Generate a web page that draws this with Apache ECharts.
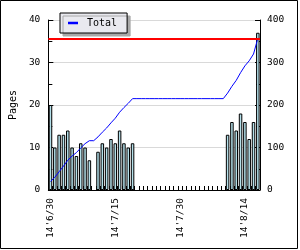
<!DOCTYPE html>
<html>
<head>
<meta charset="utf-8">
<script src="https://cdn.jsdelivr.net/npm/echarts@6/dist/echarts.min.js"></script>
<style>
html,body{margin:0;padding:0;background:#fff;}
#c{width:300px;height:250px;}
</style>
</head>
<body>
<div id="c"></div>
<script>
// ---- data ----
const dates = [
  "14'6/30","14'7/1","14'7/2","14'7/3","14'7/4","14'7/5","14'7/6","14'7/7","14'7/8","14'7/9",
  "14'7/10","14'7/11","14'7/12","14'7/13","14'7/14","14'7/15","14'7/16","14'7/17","14'7/18","14'7/19",
  "14'7/20","14'7/21","14'7/22","14'7/23","14'7/24","14'7/25","14'7/26","14'7/27","14'7/28","14'7/29",
  "14'7/30","14'7/31","14'8/1","14'8/2","14'8/3","14'8/4","14'8/5","14'8/6","14'8/7","14'8/8",
  "14'8/9","14'8/10","14'8/11","14'8/12","14'8/13","14'8/14","14'8/15","14'8/16","14'8/17"
];
const pagesPerDay = [
  20,10,13,13,14,10,8,11,10,7,
  null,9,11,10,12,11,14,11,10,11,
  null,null,null,null,null,null,null,null,null,null,
  null,null,null,null,null,null,null,null,null,null,
  null,13,16,14,18,16,12,16,37
];
const totalPages = [
  20,30,43,56,70,80,88,99,109,116,
  116,125,136,146,158,169,183,194,204,215,
  215,215,215,215,215,215,215,215,215,215,
  215,215,215,215,215,215,215,215,215,215,
  215,228,244,258,276,292,304,320,357
];
const targetPages = 357;
const leftTicks = [0, 40, 10];    // min, max, interval
const rightTicks = [0, 400, 100];
const labelEvery = 15;

const FONT = 'DejaVu Sans Mono';
const chart = echarts.init(document.getElementById('c'), null, {renderer: 'canvas'});
const axisTxt = {fontFamily: FONT, fontSize: 9.5, color: '#000'};

chart.setOption({
  animation: false,
  backgroundColor: '#fff',
  grid: {left: 40, right: 40, top: 20, bottom: 60, containLabel: false},
  legend: {
    data: ['Total'],
    left: 60, top: 13,
    padding: [5, 10, 5, 8],
    backgroundColor: '#e9e9ef',
    borderColor: '#000', borderWidth: 1,
    shadowColor: '#a8a8a8', shadowBlur: 0, shadowOffsetX: 3, shadowOffsetY: 3,
    icon: 'rect', itemWidth: 10, itemHeight: 2.5,
    textStyle: {fontFamily: FONT, fontSize: 10, color: '#000', padding: [0, 0, 0, 4]}
  },
  xAxis: {
    type: 'category',
    data: dates,
    boundaryGap: true,
    axisLine: {lineStyle: {color: '#000', width: 1}},
    axisTick: {show: true, inside: true, length: 4, interval: 0, lineStyle: {color: '#000'}},
    axisLabel: Object.assign({rotate: 90, margin: 8, interval: (i) => i % labelEvery === 0}, axisTxt),
    splitLine: {show: false}
  },
  yAxis: [
    {
      type: 'value', position: 'left',
      min: leftTicks[0], max: leftTicks[1], interval: leftTicks[2],
      name: 'Pages', nameLocation: 'middle', nameGap: 27,
      nameTextStyle: {fontFamily: FONT, fontSize: 10, color: '#000'},
      axisLine: {show: true, lineStyle: {color: '#000', width: 1}},
      axisTick: {show: true, inside: true, length: 5, lineStyle: {color: '#000'}},
      minorTick: {show: true, splitNumber: 2, length: 4, lineStyle: {color: '#000'}},
      axisLabel: Object.assign({margin: 8}, axisTxt),
      splitLine: {show: true, lineStyle: {color: '#d9d9d9', width: 1}}
    },
    {
      type: 'value', position: 'right',
      min: rightTicks[0], max: rightTicks[1], interval: rightTicks[2],
      axisLine: {show: true, lineStyle: {color: '#000', width: 1}},
      axisTick: {show: true, inside: true, length: 5, lineStyle: {color: '#000'}},
      minorTick: {show: true, splitNumber: 2, length: 4, lineStyle: {color: '#000'}},
      axisLabel: Object.assign({margin: 7}, axisTxt),
      splitLine: {show: false}
    }
  ],
  series: [
    {
      name: 'Pages', type: 'bar', yAxisIndex: 0,
      data: pagesPerDay,
      barWidth: 3.5,
      itemStyle: {color: '#b4e0ea', borderColor: '#000', borderWidth: 1}
    },
    {
      name: 'Total', type: 'line', yAxisIndex: 1,
      data: totalPages,
      showSymbol: false, symbol: 'none',
      color: '#0000ff',
      lineStyle: {color: '#0000ff', width: 1},
      z: 3,
      markLine: {
        silent: true, symbol: 'none', label: {show: false},
        lineStyle: {color: '#ff0000', width: 2, type: 'solid'},
        data: [{yAxis: targetPages}]
      }
    }
  ],
  graphic: [
    {type: 'rect', shape: {x: 0.5, y: 0.5, width: 297, height: 248}, style: {fill: 'none', stroke: '#000', lineWidth: 1}, silent: true}
  ]
});
</script>
</body>
</html>
